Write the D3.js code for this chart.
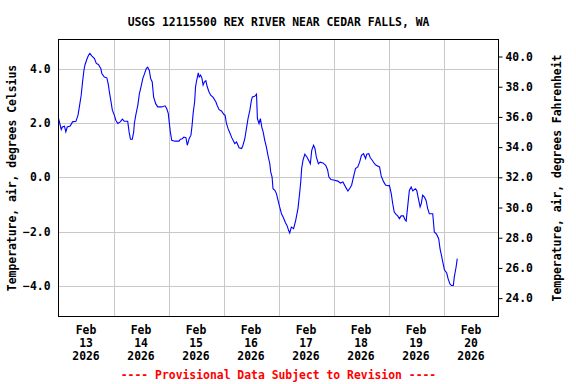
<!DOCTYPE html>
<html><head><meta charset="utf-8">
<script src="https://cdn.jsdelivr.net/npm/d3@7"></script>
<style>
html,body{margin:0;padding:0;background:#fff;}
text{font-family:"DejaVu Sans Mono","Liberation Mono",monospace;font-weight:bold;font-size:11.4px;}
</style></head>
<body>
<svg id="chart" width="576" height="384"></svg>
<script>
const title = "USGS 12115500 REX RIVER NEAR CEDAR FALLS, WA";
const leftTitle = "Temperature, air, degrees Celsius";
const rightTitle = "Temperature, air, degrees Fahrenheit";
const footer = "---- Provisional Data Subject to Revision ----";
const startDate = new Date(2026, 1, 13, 0, 0);
const endDate = new Date(2026, 1, 21, 0, 0);
const celsiusTicks = [-4, -2, 0, 2, 4];
const fahrenheitTicks = [24, 26, 28, 30, 32, 34, 36, 38, 40];
const dayLabels = ["Feb 13 2026","Feb 14 2026","Feb 15 2026","Feb 16 2026","Feb 17 2026","Feb 18 2026","Feb 19 2026","Feb 20 2026"];

// hours since Feb 13 2026 00:00
const hours = [0,1.2,1.7,2.6,3.2,3.8,5.1,6.1,7.6,8.5,9.1,9.9,10.5,11.1,11.6,12.5,13.1,13.7,14.5,15.7,16.5,17.4,18.5,18.9,20.0,21.1,21.8,22.2,22.8,23.5,24.4,25.0,25.9,26.9,27.9,28.7,30.2,30.8,31.4,32.2,32.8,33.1,33.7,34.6,35.3,36.0,36.8,37.4,38.3,38.9,39.6,40.2,40.9,41.5,42.4,43.3,45.0,46.5,47.2,47.9,48.3,48.8,49.4,50.8,52.6,53.2,54.0,54.7,55.6,56.2,57.0,57.8,58.3,58.8,59.4,59.8,60.3,61.0,61.4,62.0,62.6,63.1,63.7,64.3,64.9,65.7,66.4,67.5,68.7,69.2,70.1,71.1,72.1,72.7,73.3,74.0,74.8,75.6,76.9,77.7,78.8,79.9,80.5,81.3,82.0,82.7,83.5,84.2,84.6,85.6,86.4,86.8,87.5,88.1,88.7,89.3,90.0,90.7,91.4,92.2,92.6,93.2,93.6,94.4,95.1,95.8,96.5,97.3,98.0,99.1,99.7,100.4,100.9,101.6,102.6,103.5,104.5,105.2,105.7,106.1,106.7,107.5,108.4,109.3,109.9,110.5,111.3,111.9,112.5,113.4,114.2,115.4,116.6,117.4,118.0,118.9,120.5,121.9,123.0,124.1,125.3,126.3,127.0,127.9,128.7,129.6,130.6,131.4,132.2,133.1,134.0,134.5,135.4,136.0,136.9,137.9,138.6,140.1,140.8,141.8,142.7,143.7,144.4,145.2,145.9,146.5,147.3,148.0,148.8,149.5,150.5,151.3,151.7,152.4,153.1,153.9,154.6,155.7,156.3,157.2,157.8,158.3,158.9,159.7,160.4,161.1,161.8,163.3,164.0,165.0,165.9,166.5,167.2,167.6,168.4,169.4,170.0,170.8,171.5,172.3,172.7,173.5,174.0];
const tempC = [2.18,1.76,1.85,1.88,1.67,1.85,1.89,2.04,2.06,2.28,2.59,3.02,3.51,3.94,4.15,4.37,4.49,4.56,4.47,4.37,4.19,4.15,4.00,3.82,3.69,3.66,3.39,3.14,2.84,2.47,2.28,2.10,1.98,2.04,2.14,2.06,2.06,1.67,1.40,1.40,1.67,1.98,2.28,2.65,3.08,3.33,3.64,3.78,4.00,4.05,3.94,3.64,3.51,2.96,2.71,2.59,2.59,2.63,2.53,2.35,2.04,1.67,1.36,1.33,1.33,1.40,1.42,1.48,1.46,1.18,1.42,1.55,1.92,2.40,2.77,3.33,3.57,3.84,3.69,3.76,3.64,3.39,3.51,3.55,3.33,3.14,3.02,2.94,2.77,2.65,2.49,2.44,2.32,2.28,1.98,1.79,1.63,1.46,1.24,1.30,1.09,1.06,1.18,1.42,1.79,2.16,2.47,2.84,2.96,2.98,3.06,2.16,1.98,2.16,1.85,1.67,1.36,1.12,0.81,0.50,0.20,0.01,-0.42,-0.48,-0.60,-0.85,-1.09,-1.34,-1.46,-1.68,-1.77,-1.95,-2.05,-1.83,-1.89,-1.58,-1.15,-0.60,-0.17,0.32,0.63,0.85,0.75,0.60,0.50,0.99,1.18,1.06,0.75,0.50,0.56,0.53,0.44,0.28,0.01,-0.08,-0.11,-0.14,-0.21,-0.17,-0.36,-0.50,-0.42,-0.29,0.01,0.32,0.38,0.56,0.81,0.87,0.69,0.85,0.87,0.73,0.63,0.50,0.44,0.38,0.05,-0.15,-0.28,-0.31,-0.30,-0.60,-1.00,-1.28,-1.36,-1.42,-1.52,-1.42,-1.42,-1.58,-1.61,-1.05,-0.48,-0.36,-0.50,-0.42,-0.48,-0.85,-1.09,-0.97,-0.66,-0.73,-0.85,-1.15,-1.34,-1.34,-2.01,-2.10,-2.26,-2.63,-2.91,-3.08,-3.40,-3.52,-3.73,-3.92,-3.98,-3.98,-3.67,-3.30,-2.99];

const data = hours.map((h, i) => ({t: new Date(startDate.getTime() + h * 3600000), c: tempC[i]}));

const svg = d3.select("#chart");
const m = {left: 58.5, right: 498.5, top: 39.5, bottom: 316.5};

const x = d3.scaleTime().domain([startDate, endDate]).range([m.left, m.right]);
const y = d3.scaleLinear().domain([-5.12, 5.07]).range([m.bottom, m.top]);
const yF = d3.scaleLinear().domain([-5.12 * 1.8 + 32, 5.07 * 1.8 + 32]).range([m.bottom, m.top]);

// grid
const days = d3.timeDay.range(d3.timeDay.offset(startDate, 1), endDate);
svg.append("g").selectAll("line").data(days).join("line")
  .attr("x1", d => Math.round(x(d)) + 0.5).attr("x2", d => Math.round(x(d)) + 0.5)
  .attr("y1", m.top).attr("y2", m.bottom)
  .attr("stroke", "#c8c8c8").attr("stroke-width", 1);
svg.append("g").selectAll("line").data(celsiusTicks).join("line")
  .attr("x1", m.left).attr("x2", m.right)
  .attr("y1", d => Math.round(y(d)) + 0.5).attr("y2", d => Math.round(y(d)) + 0.5)
  .attr("stroke", "#c8c8c8").attr("stroke-width", 1);

// line
const line = d3.line().x(d => x(d.t)).y(d => y(d.c)).curve(d3.curveLinear);
svg.append("path").datum(data).attr("d", line)
  .attr("fill", "none").attr("stroke", "#0000ff").attr("stroke-width", 1.1);

// frame
svg.append("rect").attr("x", m.left).attr("y", m.top)
  .attr("width", m.right - m.left).attr("height", m.bottom - m.top)
  .attr("fill", "none").attr("stroke", "#000").attr("stroke-width", 1);

// left axis labels
const leftAxis = d3.axisLeft(y).tickValues(celsiusTicks).tickSize(0).tickPadding(8).tickFormat(d3.format(".1f"));
const gl = svg.append("g").attr("transform", `translate(${m.left},0)`).call(leftAxis);
gl.select(".domain").remove();
gl.selectAll("text").attr("font-family", null).attr("font-size", null).attr("fill", "#000");

// right axis
const rightAxis = d3.axisRight(yF).tickValues(fahrenheitTicks).tickSize(4).tickPadding(3).tickFormat(d3.format(".1f"));
const gr = svg.append("g").attr("transform", `translate(${m.right},0)`).call(rightAxis);
gr.select(".domain").remove();
gr.selectAll("line").attr("stroke", "#000");
gr.selectAll("text").attr("font-family", null).attr("font-size", null).attr("fill", "#000");

// bottom labels
const noons = d3.timeDay.range(startDate, endDate).map(d => d3.timeHour.offset(d, 12));
const bl = svg.append("g").selectAll("text").data(noons).join("text")
  .attr("text-anchor", "middle").attr("fill", "#000");
bl.each(function(d, i) {
  const parts = dayLabels[i].split(" ");
  const t = d3.select(this);
  parts.forEach((p, k) => {
    t.append("tspan").attr("x", x(d)).attr("y", 334 + k * 12.8).text(p);
  });
});

// titles
svg.append("text").attr("x", (m.left + m.right) / 2).attr("y", 26)
  .attr("text-anchor", "middle").text(title);
svg.append("text").attr("transform", `translate(16,${(m.top + m.bottom) / 2}) rotate(-90)`)
  .attr("text-anchor", "middle").text(leftTitle);
svg.append("text").attr("transform", `translate(561,${(m.top + m.bottom) / 2}) rotate(-90)`)
  .attr("text-anchor", "middle").text(rightTitle);
svg.append("text").attr("x", (m.left + m.right) / 2).attr("y", 379)
  .attr("text-anchor", "middle").attr("fill", "#ff0000").text(footer);
</script>
</body></html>
